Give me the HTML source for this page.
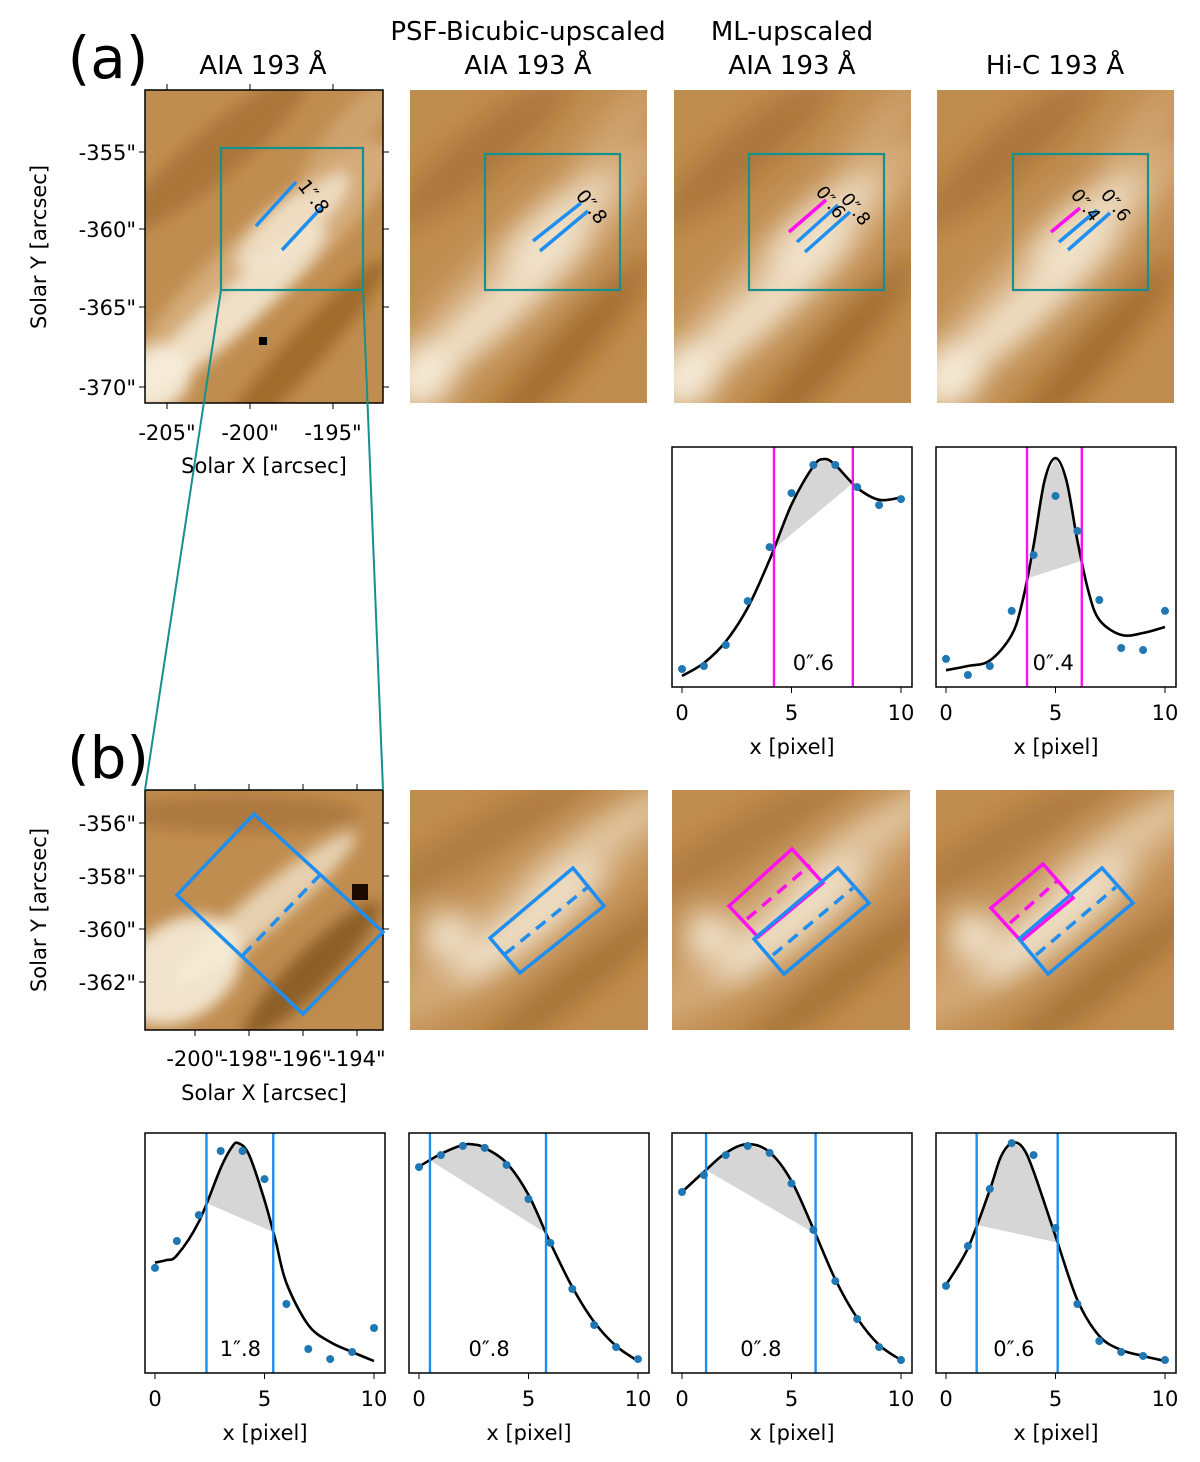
<!DOCTYPE html>
<html><head><meta charset="utf-8"><style>
html,body{margin:0;padding:0;background:#fff}
svg{display:block;font-family:"DejaVu Sans","Liberation Sans",sans-serif}
</style></head><body>
<svg id="fig" width="1200" height="1462" viewBox="0 0 1200 1462" xmlns="http://www.w3.org/2000/svg">
<defs>
<filter id="bl8" x="-50%" y="-50%" width="200%" height="200%"><feGaussianBlur stdDeviation="14"/></filter>
<filter id="bl4" x="-50%" y="-50%" width="200%" height="200%"><feGaussianBlur stdDeviation="7"/></filter>
</defs>
<g id="root"></g>
</svg>
<script>
// ---- profile data (x in pixels, value normalized 0..1) ----
const pxTicks = [0, 5, 10];
const a3Points = [0.075,0.0875,0.175,0.358,0.583,0.808,0.925,0.925,0.833,0.758,0.783];
const a3Curve = [[0,0.046],[1,0.1],[2,0.19],[3,0.33],[4,0.53],[5,0.76],[6,0.92],[6.5,0.95],[7,0.925],[8,0.83],[9,0.78],[10,0.79]];
const a3Lines = [4.2, 7.8];
const a4Points = [0.117,0.05,0.0875,0.317,0.55,0.796,0.65,0.3625,0.1625,0.154,0.317];
const a4Curve = [[0,0.07],[1,0.0875],[2,0.11],[3,0.217],[3.5,0.36],[4,0.59],[4.5,0.86],[5,0.954],[5.5,0.86],[6,0.61],[6.5,0.40],[7,0.28],[8,0.217],[9,0.225],[10,0.25]];
const a4Lines = [3.7, 6.2];
const b1Points = [0.438,0.55,0.658,0.925,0.925,0.808,0.2875,0.1,0.058,0.0875,0.1875];
const b1Curve = [[0,0.46],[0.5,0.47],[1,0.49],[2,0.63],[3,0.854],[3.5,0.94],[3.8,0.958],[4.3,0.908],[5,0.72],[5.5,0.554],[6,0.375],[7,0.2],[8,0.129],[9,0.0875],[10,0.05]];
const b1Lines = [2.35, 5.4];
const b2Points = [0.858,0.908,0.946,0.938,0.867,0.725,0.542,0.35,0.2,0.108,0.058];
const b2Curve = [[0,0.86],[1,0.913],[2,0.95],[2.5,0.952],[3,0.938],[4,0.875],[5,0.742],[6,0.542],[7,0.358],[8,0.2125],[9,0.1125],[10,0.05]];
const b2Lines = [0.5, 5.8];
const b3Points = [0.754,0.825,0.908,0.946,0.917,0.79,0.596,0.383,0.225,0.108,0.054];
const b3Curve = [[0,0.754],[1,0.838],[2,0.917],[3,0.954],[4,0.92],[5,0.80],[6,0.60],[7,0.39],[8,0.229],[9,0.117],[10,0.054]];
const b3Lines = [1.1, 6.1];
const b4Points = [0.363,0.529,0.767,0.958,0.908,0.604,0.2875,0.133,0.0875,0.071,0.054];
const b4Curve = [[0,0.367],[1,0.52],[2,0.763],[2.5,0.9],[3,0.958],[3.5,0.94],[4,0.84],[5,0.57],[6,0.304],[7,0.154],[8,0.096],[9,0.071],[10,0.05]];
const b4Lines = [1.4, 5.1];

const NS = "http://www.w3.org/2000/svg";
const root = document.getElementById('root');
function el(tag, attrs, parent){
  const e = document.createElementNS(NS, tag);
  for (const k in attrs) e.setAttribute(k, attrs[k]);
  (parent||root).appendChild(e);
  return e;
}
function txt(s, x, y, size, anchor, parent, extra){
  const t = el('text', Object.assign({x:x, y:y, 'font-size':size, 'text-anchor':anchor||'middle', fill:'#000'}, extra||{}), parent);
  t.textContent = s;
  return t;
}
let clipId = 0;
function solarImage(name, x, y, w, h, base, blobs, blur){
  const g = el('g', {});
  
  
  const cp = el('clipPath', {id:'cp'+(++clipId)}, g);
  el('rect', {x:x, y:y, width:w, height:h}, cp);
  const inner = el('g', {'clip-path':'url(#cp'+clipId+')'}, g);
  el('rect', {x:x, y:y, width:w, height:h, fill:base}, inner);
  const bg = el('g', {filter:'url(#'+blur+')'}, inner);
  blobs.forEach(b=>{
    const cx = x+b[0]*w, cy = y+b[1]*h;
    el('ellipse', {cx:cx, cy:cy, rx:b[2]*w, ry:b[3]*h, fill:b[5], opacity:b[6], transform:'rotate('+b[4]+' '+cx+' '+cy+')'}, bg);
  });
  return g;
}
const L='#f6ecd9', M='#d9b383', D='#8a5518', DD='#5a3008';
const topBlobs = [
  [0.5,0.55,0.75,0.12,-42,M,0.8],
  [0.35,0.72,0.55,0.07,-42,L,0.8],
  [0.62,0.42,0.3,0.07,-40,L,0.75],
  [0.05,0.92,0.15,0.1,-40,L,0.9],
  [0.65,0.85,0.55,0.06,-48,D,0.6],
  [0.3,0.2,0.5,0.08,-40,D,0.4],
  [0.85,0.15,0.3,0.06,-50,M,0.6]
];
const botBlobs = [
  [0.5,0.5,0.8,0.16,-38,M,0.7],
  [0.5,0.55,0.4,0.08,-38,L,0.85],
  [0.15,0.6,0.1,0.1,0,L,0.85],
  [0.7,0.8,0.6,0.07,-38,D,0.5],
  [0.3,0.2,0.6,0.08,-30,D,0.35],
  [0.8,0.2,0.4,0.06,-35,L,0.5]
];
const b1Blobs = [
  [0.15,0.75,0.28,0.2,-35,L,0.9],
  [0.5,0.5,0.5,0.08,-40,L,0.7],
  [0.7,0.75,0.4,0.08,-45,DD,0.5],
  [0.4,0.1,0.5,0.08,0,D,0.35]
];
// top row images
const topX = [145, 410, 674, 937];
const topNames = ['aia-image-a','psf-upscaled-image-a','ml-upscaled-image-a','hic-image-a'];
topX.forEach((x,i)=>solarImage(topNames[i], x, 90, i==0?238:237, 313, '#c08d50', topBlobs, i==0?'bl4':'bl8'));
const botX = [145, 410, 672, 936];
const botNames = ['aia-image-b','psf-upscaled-image-b','ml-upscaled-image-b','hic-image-b'];
botX.forEach((x,i)=>solarImage(botNames[i], x, 790, 238, 240, '#c08d50', i==0?b1Blobs:botBlobs, i==0?'bl4':'bl8'));
// dark spots
el('rect',{x:259,y:337,width:8,height:8,fill:'#000'});
el('rect',{x:352,y:884,width:16,height:16,fill:'#1a0a00'});

// frames for AIA panels
el('rect',{x:145,y:90,width:238,height:313,fill:'none',stroke:'#000','stroke-width':1.5});
el('rect',{x:145,y:790,width:238,height:240,fill:'none',stroke:'#000','stroke-width':1.5});

// ticks a1
const a1YT=[[152,'-355"'],[229,'-360"'],[307,'-365"'],[387,'-370"']];
a1YT.forEach(t=>{el('line',{x1:139,y1:t[0],x2:145,y2:t[0],stroke:'#000'});el('line',{x1:383,y1:t[0],x2:389,y2:t[0],stroke:'#000'});txt(t[1],136,t[0]+8,21,'end');});
const a1XT=[[167,'-205"'],[250,'-200"'],[333,'-195"']];
a1XT.forEach(t=>{el('line',{x1:t[0],y1:403,x2:t[0],y2:409,stroke:'#000'});el('line',{x1:t[0],y1:84,x2:t[0],y2:90,stroke:'#000'});txt(t[1],t[0],440,21);});
txt('Solar X [arcsec]',264,473,21);
txt('Solar Y [arcsec]',46,247,21,'middle',null,{transform:'rotate(-90 46 247)'});
const b1YT=[[823,'-356"'],[876,'-358"'],[929,'-360"'],[982,'-362"']];
b1YT.forEach(t=>{el('line',{x1:139,y1:t[0],x2:145,y2:t[0],stroke:'#000'});el('line',{x1:383,y1:t[0],x2:389,y2:t[0],stroke:'#000'});txt(t[1],136,t[0]+8,21,'end');});
const b1XT=[[195,'-200"'],[249,'-198"'],[303,'-196"'],[357,'-194"']];
b1XT.forEach(t=>{el('line',{x1:t[0],y1:1030,x2:t[0],y2:1036,stroke:'#000'});el('line',{x1:t[0],y1:784,x2:t[0],y2:790,stroke:'#000'});txt(t[1],t[0],1066,21);});
txt('Solar X [arcsec]',264,1100,21);
txt('Solar Y [arcsec]',46,910,21,'middle',null,{transform:'rotate(-90 46 910)'});

// titles
txt('(a)',108,78,58);
txt('(b)',108,778,58);
txt('AIA 193 Å',263,74,26);
txt('PSF-Bicubic-upscaled',528,40,26);
txt('AIA 193 Å',528,74,26);
txt('ML-upscaled',792,40,26);
txt('AIA 193 Å',792,74,26);
txt('Hi-C 193 Å',1055,74,26);

// overlays
const TEAL='#14908e', BLUE='#1e8ff0', MAG='#ff10f0';
function box(x1,y1,x2,y2){el('rect',{x:x1,y:y1,width:x2-x1,height:y2-y1,fill:'none',stroke:TEAL,'stroke-width':2.2});}
function seg(a,b,c,d,col,dash){const o={x1:a,y1:b,x2:c,y2:d,stroke:col,'stroke-width':3.5};if(dash)o['stroke-dasharray']='12 8';el('line',o);}
function poly(pts,col){el('polygon',{points:pts.map(p=>p.join(',')).join(' '),fill:'none',stroke:col,'stroke-width':3.5});}
box(221,148,363,290);
el('line',{x1:221,y1:290,x2:145,y2:790,stroke:TEAL,'stroke-width':2});
el('line',{x1:363,y1:290,x2:383,y2:790,stroke:TEAL,'stroke-width':2});
seg(256,226,296,182,BLUE);seg(282,250,322,207,BLUE);
txt('1″.8',297,186,19,'start',null,{transform:'rotate(52 297 186)'});
box(485,154,620,290);
seg(533,241,581,203,BLUE);seg(540,251,588,211,BLUE);
txt('0″.8',575,196,19,'start',null,{transform:'rotate(52 575 196)'});
box(749,154,884,290);
seg(789,232,826,200,MAG);seg(797,242,838,205,BLUE);seg(805,252,850,212,BLUE);
txt('0″.6',815,192,18,'start',null,{transform:'rotate(52 815 192)'});
txt('0″.8',840,199,18,'start',null,{transform:'rotate(52 840 199)'});
box(1013,154,1148,290);
seg(1051,232,1080,208,MAG);seg(1059,242,1097,210,BLUE);seg(1068,250,1110,213,BLUE);
txt('0″.4',1070,195,18,'start',null,{transform:'rotate(52 1070 195)'});
txt('0″.6',1100,195,18,'start',null,{transform:'rotate(52 1100 195)'});
// b overlays
poly([[254,814],[383,932],[303,1014],[177,895]],BLUE);seg(243,955,320,875,BLUE,true);
poly([[490,938],[573,868],[604,906],[520,973]],BLUE);seg(505,954,588,887,BLUE,true);
poly([[729,906],[792,849],[823,883],[758,937]],MAG);seg(747,919,810,865,MAG,true);
poly([[838,868],[869,903],[784,974],[754,939]],BLUE);seg(773,955,853,888,BLUE,true);
poly([[991,908],[1043,864],[1073,898],[1021,941]],MAG);seg(1010,923,1057,881,MAG,true);
poly([[1102,868],[1133,903],[1048,974],[1019,939]],BLUE);seg(1036,955,1116,887,BLUE,true);

// profiles
function interp(curve, x){
  for(let i=0;i<curve.length-1;i++){const a=curve[i],b=curve[i+1];if(x>=a[0]&&x<=b[0]){return a[1]+(b[1]-a[1])*(x-a[0])/(b[0]-a[0]);}}
  return curve[curve.length-1][1];
}
function profile(name, px, py, pts, curve, lines, label, labelX, lineCol){
  const w=240,h=240;
  const xs=v=>px+10+v*21.9, ys=v=>py+h-v*h;
  const g=el('g',{});
  
  
  const xl=lines[0], xr=lines[1];
  const sp=[[xs(xl),ys(interp(curve,xl))]];
  curve.forEach(c=>{if(c[0]>xl&&c[0]<xr)sp.push([xs(c[0]),ys(c[1])]);});
  sp.push([xs(xr),ys(interp(curve,xr))]);
  const sh=el('polygon',{points:sp.map(p=>p.join(',')).join(' '),fill:'#d6d6d6',stroke:'none'},g);
  
  
  const P=curve.map(c=>[xs(c[0]),ys(c[1])]);
  let d='M'+P[0][0]+','+P[0][1];
  for(let i=0;i<P.length-1;i++){
    const p0=P[Math.max(0,i-1)],p1=P[i],p2=P[i+1],p3=P[Math.min(P.length-1,i+2)];
    d+=' C'+(p1[0]+(p2[0]-p0[0])/6)+','+(p1[1]+(p2[1]-p0[1])/6)+' '+(p2[0]-(p3[0]-p1[0])/6)+','+(p2[1]-(p3[1]-p1[1])/6)+' '+p2[0]+','+p2[1];
  }
  const cl=el('path',{d:d,fill:'none',stroke:'#000','stroke-width':2.6},g);
  
  
  lines.forEach(v=>{
    const ln=el('line',{x1:xs(v),y1:py,x2:xs(v),y2:py+h,stroke:lineCol,'stroke-width':2.4},g);
    
    
  });
  pts.forEach((v,i)=>{
    const c=el('circle',{cx:xs(i),cy:ys(v),r:4,fill:'#1f77b4'},g);
    
    
  });
  el('rect',{x:px,y:py,width:w,height:h,fill:'none',stroke:'#000','stroke-width':1.5},g);
  pxTicks.forEach(t=>{el('line',{x1:xs(t),y1:py+h,x2:xs(t),y2:py+h+6,stroke:'#000'},g);txt(String(t),xs(t),py+h+33,21,'middle',g);});
  txt('x [pixel]',px+w/2,py+h+67,21,'middle',g);
  txt(label,xs(labelX),py+h-17,21,'middle',g);
}
profile('profile-a-ml',672,447,a3Points,a3Curve,a3Lines,'0″.6',6.0,MAG);
profile('profile-a-hic',936,447,a4Points,a4Curve,a4Lines,'0″.4',4.9,MAG);
profile('profile-b-aia',145,1133,b1Points,b1Curve,b1Lines,'1″.8',3.9,BLUE);
profile('profile-b-psf',409,1133,b2Points,b2Curve,b2Lines,'0″.8',3.2,BLUE);
profile('profile-b-ml',672,1133,b3Points,b3Curve,b3Lines,'0″.8',3.6,BLUE);
profile('profile-b-hic',936,1133,b4Points,b4Curve,b4Lines,'0″.6',3.1,BLUE);
</script>
</body></html>
